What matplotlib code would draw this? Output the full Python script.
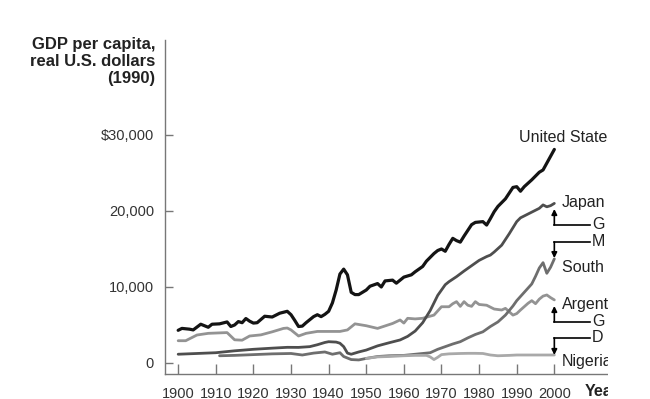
import matplotlib
matplotlib.use("Agg")
import matplotlib.pyplot as plt
from matplotlib.patches import Rectangle

plt.rcParams['font.family'] = ['Liberation Sans', 'DejaVu Sans']

us_years = [1900, 1901, 1903, 1904, 1906, 1908, 1909, 1911, 1913, 1914, 1915, 1916, 1917, 1918,
            1919, 1920, 1921, 1923, 1925, 1927, 1929, 1930, 1931, 1932, 1933, 1934, 1936, 1937,
            1938, 1939, 1940, 1941, 1942, 1943, 1944, 1945, 1946, 1947, 1948, 1950, 1951, 1953,
            1954, 1955, 1957, 1958, 1960, 1962, 1963, 1965, 1966, 1968, 1969, 1970, 1971, 1972,
            1973, 1974, 1975, 1976, 1978, 1979, 1980, 1981, 1982, 1983, 1984, 1985, 1987, 1989,
            1990, 1991, 1992, 1994, 1996, 1997, 1998, 1999, 2000]
us_gdp = [4300, 4550, 4450, 4350, 5100, 4700, 5100, 5150, 5400, 4800, 5000, 5450, 5300, 5850,
          5500, 5250, 5300, 6150, 6050, 6550, 6800, 6350, 5600, 4800, 4850, 5300, 6100, 6350,
          6100, 6400, 6800, 7900, 9600, 11700, 12350, 11600, 9300, 9000, 9000, 9600, 10100, 10450,
          10000, 10800, 10900, 10500, 11300, 11600, 12000, 12700, 13400, 14400, 14800, 15000, 14700, 15600,
          16400, 16100, 15900, 16700, 18200, 18500, 18550, 18600, 18150, 19000, 19900, 20600, 21600, 23100,
          23200, 22600, 23200, 24100, 25100, 25400, 26300, 27200, 28100]

japan_years = [1900, 1905, 1910, 1915, 1920, 1925, 1929, 1932, 1935, 1937, 1939, 1940, 1942, 1943,
               1944, 1945, 1946, 1948, 1950, 1953, 1956, 1959, 1961, 1963, 1965, 1967, 1969, 1971,
               1972, 1974, 1976, 1978, 1980, 1982, 1983, 1984, 1986, 1988, 1990, 1991, 1993, 1995,
               1996, 1997, 1998, 1999, 2000]
japan_gdp = [1150, 1250, 1350, 1600, 1800, 1950, 2060, 2050, 2150, 2400, 2700, 2800, 2750, 2600,
             2150, 1300, 1150, 1450, 1700, 2250, 2650, 3030, 3500, 4200, 5300, 6900, 8900, 10300,
             10700, 11360, 12100, 12800, 13500, 14000, 14200, 14600, 15500, 17000, 18600, 19100, 19600, 20100,
             20350, 20800, 20550, 20700, 21000]

korea_years = [1911, 1915, 1920, 1925, 1930, 1933, 1936, 1939, 1941, 1943, 1944, 1946, 1948, 1950,
               1953, 1956, 1960, 1963, 1965, 1967, 1969, 1971, 1973, 1975, 1977, 1979, 1981, 1983,
               1985, 1987, 1989, 1990, 1992, 1994, 1995, 1996, 1997, 1998, 1999, 2000]
korea_gdp = [950, 1000, 1100, 1200, 1250, 1050, 1300, 1450, 1150, 1350, 850, 450, 400, 600,
             850, 950, 1000, 1150, 1250, 1350, 1800, 2150, 2500, 2800, 3300, 3750, 4100, 4800,
             5400, 6300, 7500, 8200, 9300, 10400, 11400, 12500, 13200, 11800, 12600, 13700]

arg_years = [1900, 1902, 1905, 1908, 1913, 1915, 1917, 1919, 1922, 1925, 1928, 1929, 1930, 1932,
             1934, 1937, 1943, 1945, 1947, 1950, 1953, 1957, 1959, 1960, 1961, 1963, 1965, 1968,
             1970, 1972, 1973, 1974, 1975, 1976, 1977, 1978, 1979, 1980, 1982, 1984, 1986, 1987,
             1989, 1990, 1991, 1993, 1994, 1995, 1996, 1997, 1998, 1999, 2000]
arg_gdp = [2930, 2930, 3680, 3900, 4000, 3050, 3000, 3550, 3700, 4100, 4550, 4600, 4350, 3550,
           3900, 4150, 4150, 4350, 5150, 4900, 4550, 5200, 5660, 5250, 5880, 5800, 5880, 6300,
           7400, 7400, 7800, 8070, 7450, 8070, 7600, 7450, 8070, 7700, 7600, 7100, 6970, 7190,
           6300, 6500, 6970, 7850, 8200, 7800, 8400, 8800, 8950, 8600, 8300]

nigeria_years = [1950, 1953, 1956, 1960, 1963, 1966, 1967, 1968, 1969, 1970, 1972, 1975, 1977, 1979,
                 1981, 1983, 1985, 1988, 1990, 1993, 1996, 2000]
nigeria_gdp = [600, 800, 850, 950, 1000, 1000, 800, 450, 750, 1100, 1200, 1250, 1270, 1270,
               1250, 1050, 950, 1000, 1050, 1050, 1050, 1050]

xticks = list(range(1900, 2001, 10))
yticks = [0, 10000, 20000, 30000]
ytick_labels = ["0", "10,000", "20,000", "$30,000"]

fig = plt.figure(figsize=(6.5, 3.99), dpi=100)
ax = fig.add_axes([165 / 650, 25 / 399, 442 / 650, 334 / 399])

ax.plot(arg_years, arg_gdp, color="#939393", lw=2.0, zorder=2, solid_capstyle="round")
ax.plot(korea_years, korea_gdp, color="#6e6e6e", lw=2.0, zorder=3, solid_capstyle="round")
ax.plot(nigeria_years, nigeria_gdp, color="#a9a9a9", lw=2.0, zorder=4, solid_capstyle="round")
ax.plot(japan_years, japan_gdp, color="#4e4e4e", lw=2.0, zorder=5, solid_capstyle="round")
ax.plot(us_years, us_gdp, color="#141414", lw=2.3, zorder=6, solid_capstyle="round")

ax.set_xlim(1896.5, 2014)
ax.set_ylim(-1450, 42500)
for s in ["top", "right"]:
    ax.spines[s].set_visible(False)
for s in ["left", "bottom"]:
    ax.spines[s].set_color("#777777")
    ax.spines[s].set_linewidth(1.0)

ax.set_xticks(xticks)
ax.set_xticklabels([str(y) for y in xticks])
ax.set_yticks(yticks)
ax.set_yticklabels(ytick_labels)
ax.tick_params(axis="x", direction="in", length=7, width=1, color="#777777",
               labelsize=10.5, labelcolor="#333333", pad=9)
ax.tick_params(axis="y", direction="in", length=6, width=1, color="#777777",
               labelsize=10.5, labelcolor="#333333", pad=8)

# series labels
lab = dict(fontsize=11.5, color="#222222", va="center", ha="left", zorder=10)
ax.text(1990.7, 29700, "United States", **lab)
ax.text(2002, 21150, "Japan", **lab)
ax.text(2002, 12500, "South Korea", **lab)
ax.text(2002, 7760, "Argentina", **lab)
ax.text(2002, 150, "Nigeria", **lab)
ax.text(2010, 18160, "G", **lab)
ax.text(2010, 15920, "M", **lab)
ax.text(2010, 5400, "G", **lab)
ax.text(2010, 3290, "D", **lab)

# bracket arrows pointing at line ends
arr = dict(arrowstyle="-|>", color="black", lw=1.2, mutation_scale=8, shrinkA=0, shrinkB=0)
for corner, tip in [(18160, 20260), (15920, 13800), (5400, 7500), (3290, 1050)]:
    ax.plot([2000, 2009.5], [corner, corner], color="black", lw=1.2, zorder=9)
    ax.annotate("", xy=(2000, tip), xytext=(2000, corner), arrowprops=arr, zorder=9)

fig.text(155 / 650, 1 - 37 / 399, "GDP per capita,\nreal U.S. dollars\n(1990)",
         ha="right", va="top", multialignment="right", fontsize=12, fontweight="bold",
         color="#222222", linespacing=1.15)
fig.text(585 / 650, 1 - 391 / 399, "Year", ha="left", va="center", fontsize=11.5,
         fontweight="bold", color="#222222")

# picture is cut off on the right
fig.add_artist(Rectangle((608 / 650, 0), 1, 1, transform=fig.transFigure,
                         facecolor="white", edgecolor="none", zorder=100))

fig.savefig("out.png", dpi=100)
